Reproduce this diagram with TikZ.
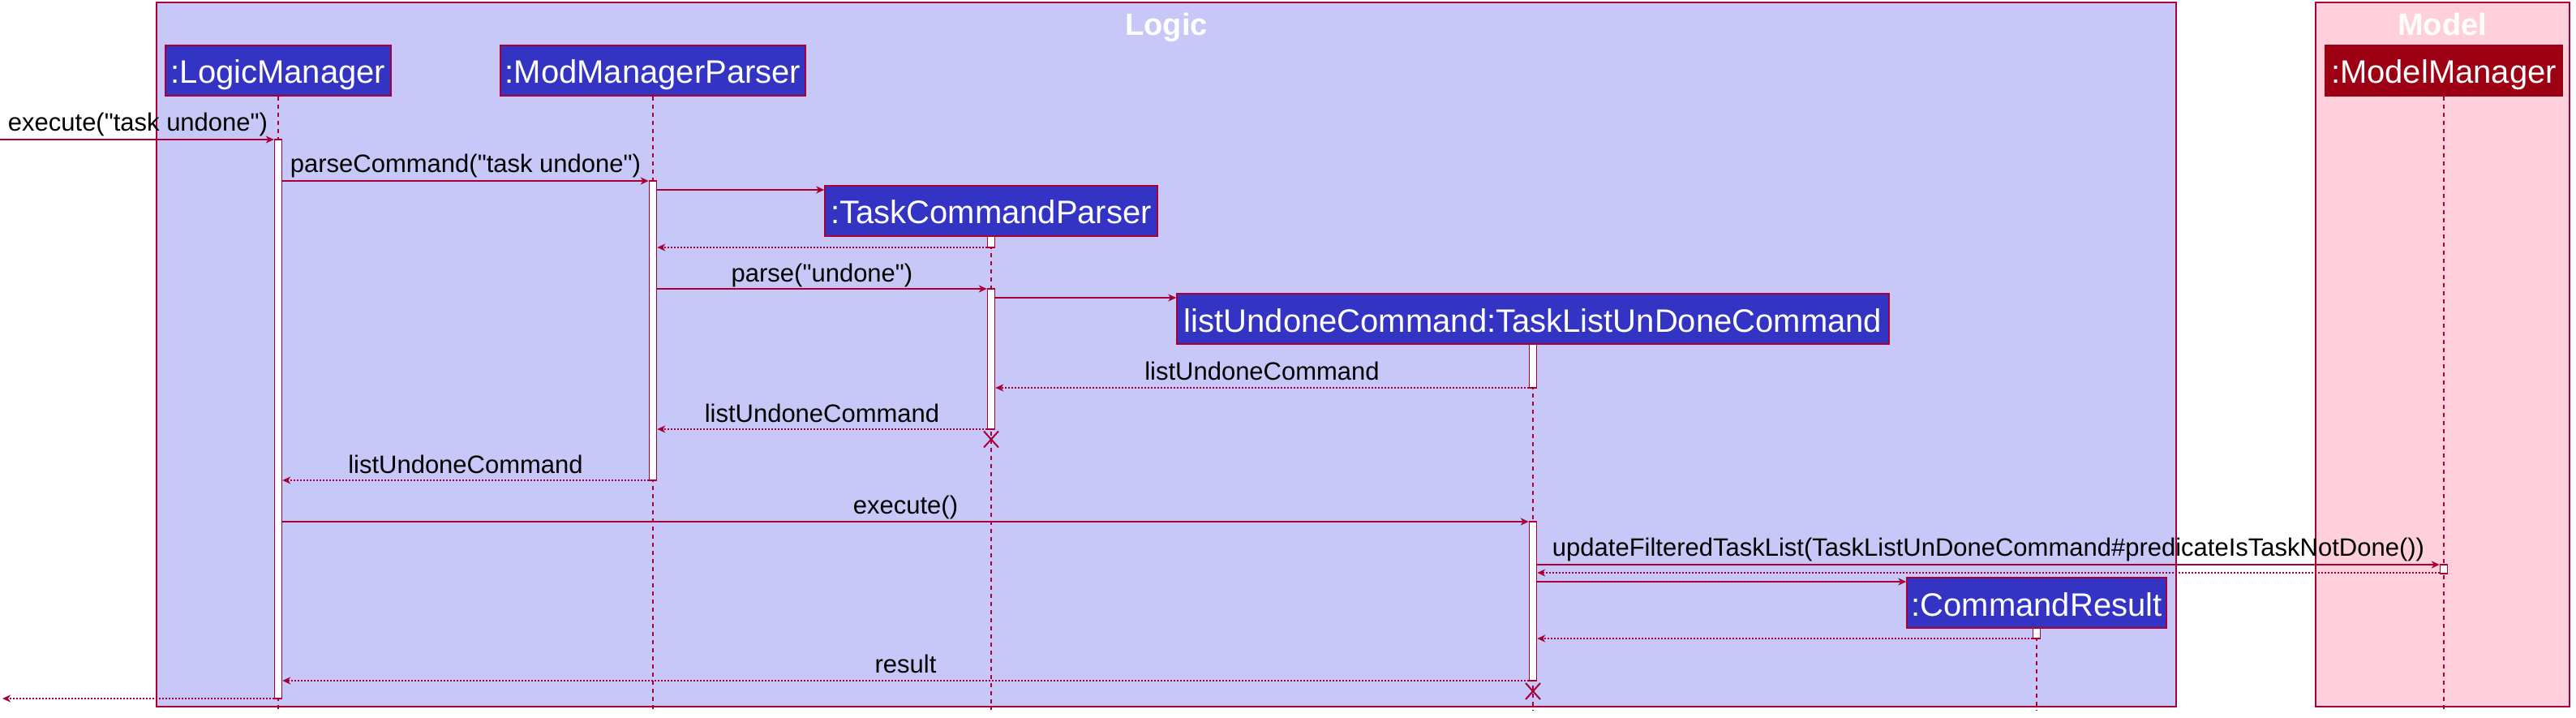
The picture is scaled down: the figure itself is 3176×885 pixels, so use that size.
\documentclass[tikz,border=0pt]{standalone}
\usepackage{fontspec}
\setmainfont{Liberation Sans}[Ligatures=TeXOff]
\usetikzlibrary{arrows.meta,shapes.misc}

\definecolor{umlred}{RGB}{168,0,54}
\definecolor{logicbg}{RGB}{200,200,248}
\definecolor{modelbg}{RGB}{255,208,220}
\definecolor{partblue}{RGB}{51,51,196}
\definecolor{partred}{RGB}{157,0,18}

% straight double quote
\newcommand{\dq}{\symbol{34}}

\tikzset{every picture/.style={line width=0.75pt}}
\tikzset{
	participant/.style={draw=umlred, line width=1.5pt, fill=partblue, text=white, font=\fontsize{40}{48}\selectfont, minimum height=62pt, text height=40pt, text depth=8pt, inner sep=0pt},
	actbar/.style={draw=umlred, line width=1.5pt, fill=white, minimum width=9pt, inner sep=0pt},
	lifeline/.style={draw=umlred, line width=1.2pt, dash pattern=on 5pt off 5pt},
	msg/.style={draw=umlred, line width=1.5pt, -{Stealth[length=10pt,width=9pt,inset=3pt]}},
	reply/.style={msg, dash pattern=on 2pt off 2pt},
	msglabel/.style={anchor=base, inner sep=0pt, font=\fontsize{31}{37}\selectfont},
	grouptitle/.style={anchor=base, inner sep=0pt, text=white, font=\bfseries\fontsize{38}{46}\selectfont},
	destroy/.style={cross out, draw=umlred, line width=2pt, minimum width=16pt, minimum height=18pt, inner sep=0pt}
}

\begin{document}
\begin{tikzpicture}[x=1pt,y=1pt,yscale=-1,xscale=1]
	\useasboundingbox (0,0) rectangle (3176,885);
	
	%Shape: Rectangle [Logic group]
	\draw [draw=umlred, line width=1.5pt, fill=logicbg] (193,3) rectangle (2683,871);
	%Shape: Rectangle [Model group]
	\draw [draw=umlred, line width=1.5pt, fill=modelbg] (2855,3) rectangle (3168,871);
	% Text Node
	\node [grouptitle] (logictitle) at (1438,44) {Logic};
	% Text Node
	\node [grouptitle] (modeltitle) at (3011,44) {Model};
	
	% Participants
	\node [participant, minimum width=278pt] (lm) at (343,87) {:LogicManager};
	\node [participant, minimum width=376pt] (mp) at (805,87) {:ModManagerParser};
	\node [participant, minimum width=410pt] (tp) at (1222,260) {:TaskCommandParser};
	\node [participant, minimum width=878pt] (lu) at (1890,393) {listUndoneCommand:TaskListUnDoneCommand};
	\node [participant, minimum width=320pt] (cr) at (2511,743) {:CommandResult};
	\node [participant, minimum width=292pt, fill=partred, draw=partred] (mm) at (3013,87) {:ModelManager};
	
	%Straight Lines [lifelines]
	\draw [lifeline] (lm.south) -- (lm.south |- 0,875);
	\draw [lifeline] (mp.south) -- (mp.south |- 0,875);
	\draw [lifeline] (tp.south) -- (tp.south |- 0,875);
	\draw [lifeline] (lu.south) -- (lu.south |- 0,875);
	\draw [lifeline] (cr.south) -- (cr.south |- 0,875);
	\draw [lifeline] (mm.south) -- (mm.south |- 0,875);
	
	% Activation bars
	\node [actbar, minimum height=689pt] (lmA) at (343,516.5) {};
	\node [actbar, minimum height=369pt] (mpA) at (805,407.5) {};
	\node [actbar, minimum height=14pt] (tpA1) at (1222,298) {};
	\node [actbar, minimum height=173pt] (tpA2) at (1222,442.5) {};
	\node [actbar, minimum height=54pt] (luA1) at (1890,451) {};
	\node [actbar, minimum height=196pt] (luA2) at (1890,741) {};
	\node [actbar, minimum height=11pt] (mmA) at (3013,701.5) {};
	\node [actbar, minimum height=13pt] (crA) at (2511,780.5) {};
	
	%Straight Lines [messages]
	\coordinate (caller) at (0,172);
	\coordinate (back) at (3,861);
	\draw [msg] (caller) -- (lmA.west |- caller);
	\draw [msg] (lmA.east |- 0,223) -- (mpA.west |- 0,223);
	\draw [msg] (mpA.east |- 0,234) -- (tp.west |- 0,234);
	\draw [reply] (tpA1.west |- 0,305) -- (mpA.east |- 0,305);
	\draw [msg] (mpA.east |- 0,356) -- (tpA2.west |- 0,356);
	\draw [msg] (tpA2.east |- 0,367) -- (lu.west |- 0,367);
	\draw [reply] (luA1.west |- 0,478) -- (tpA2.east |- 0,478);
	\draw [reply] (tpA2.west |- 0,529) -- (mpA.east |- 0,529);
	\draw [reply] (mpA.west |- 0,592) -- (lmA.east |- 0,592);
	\draw [msg] (lmA.east |- 0,643) -- (luA2.west |- 0,643);
	\draw [msg] (luA2.east |- 0,696) -- (mmA.west |- 0,696);
	\draw [reply] (mmA.west |- 0,706) -- (luA2.east |- 0,706);
	\draw [msg] (luA2.east |- 0,717) -- (cr.west |- 0,717);
	\draw [reply] (crA.west |- 0,787) -- (luA2.east |- 0,787);
	\draw [reply] (luA2.west |- 0,839) -- (lmA.east |- 0,839);
	\draw [reply] (lmA.west |- back) -- (back);
	
	% Text Node
	\node [msglabel] (m1) at (170,162) {execute(\dq task undone\dq)};
	% Text Node
	\node [msglabel] (m2) at (574,213) {parseCommand(\dq task undone\dq)};
	% Text Node
	\node [msglabel] (m5) at (1013.5,347) {parse(\dq undone\dq)};
	% Text Node
	\node [msglabel] (m7) at (1556,468) {listUndoneCommand};
	% Text Node
	\node [msglabel] (m8) at (1013.5,520) {listUndoneCommand};
	% Text Node
	\node [msglabel] (m10) at (574,583) {listUndoneCommand};
	% Text Node
	\node [msglabel] (m11) at (1116.5,633) {execute()};
	% Text Node
	\node [msglabel] (m12) at (2451.5,685) {updateFilteredTaskList(TaskListUnDoneCommand\#predicateIsTaskNotDone())};
	% Text Node
	\node [msglabel] (m16) at (1116.5,829) {result};
	
	% Destroy marks
	\node [destroy] (tpX) at (1222,541.5) {};
	\node [destroy] (luX) at (1890,852) {};
	
\end{tikzpicture}
\end{document}
